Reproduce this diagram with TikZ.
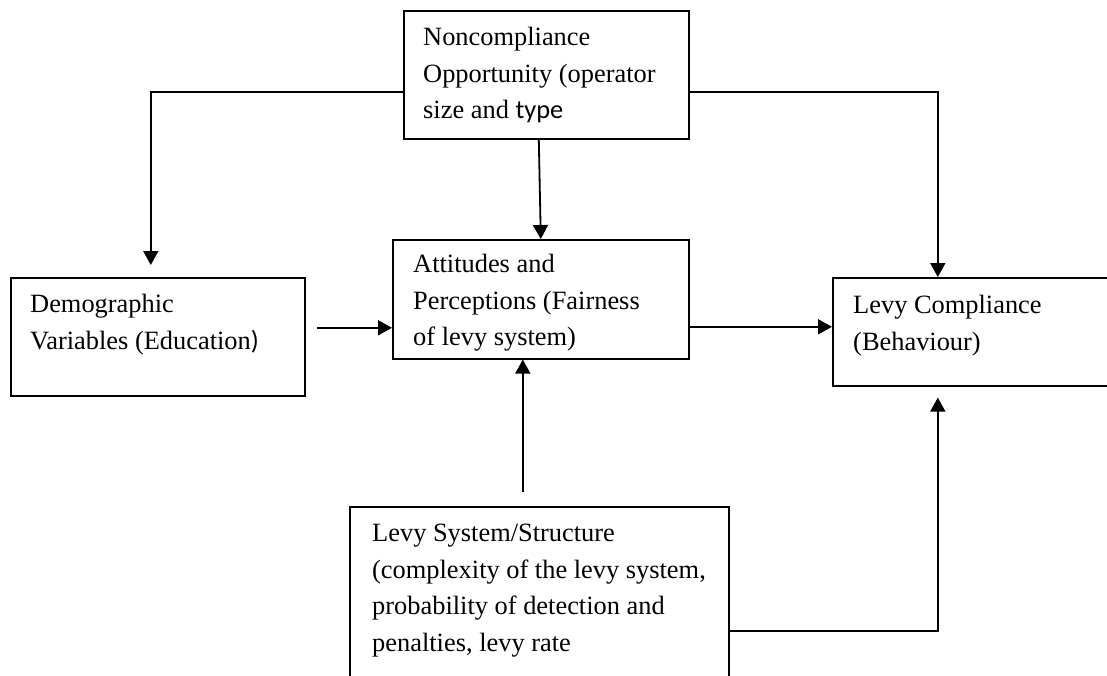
\documentclass[tikz,border=0pt]{standalone}
\usepackage{fontspec}
\setmainfont{Liberation Serif}
\newfontfamily\calib{Carlito}
\usetikzlibrary{arrows.meta,calc}
\tikzset{
  box/.style={draw=black, line width=1.6pt, inner sep=0pt, anchor=north west},
  txt/.style={inner sep=0pt, anchor=north west, align=left, font=\fontsize{26.4}{36.5}\selectfont},
  conn/.style={draw=black, line width=1.8pt},
  arr/.style={conn, -{Triangle[width=15pt,length=14pt]}}
}
\begin{document}
\begin{tikzpicture}[x=1pt,y=-1pt]
\useasboundingbox (0,0) rectangle (1107,675);
\clip (0,0) rectangle (1107,675);
\fill[white] (0,0) rectangle (1107,675);
% boxes
\node[box, minimum width=285pt, minimum height=128pt] (top) at (403,10) {};
\node[box, minimum width=294pt, minimum height=118pt] (demo) at (10,277) {};
\node[box, minimum width=296pt, minimum height=119pt] (att) at (392,239) {};
\node[box, minimum width=300pt, minimum height=108pt] (levy) at (832,277) {};
\node[box, minimum width=379pt, minimum height=190pt] (sys) at (349,506) {};
% texts
\node[txt] (toptxt) at (423,27) {Noncompliance\\Opportunity (operator\\size and {\calib type}};
\node[txt] (demotxt) at (30,294) {Demographic\\Variables (Education{\calib )}};
\node[txt] (atttxt) at (413,254) {Attitudes and\\Perceptions (Fairness\\of levy system)};
\node[txt] (levytxt) at (853,295) {Levy Compliance\\(Behaviour)};
\node[txt] (systxt) at (372,524) {Levy System/Structure\\(complexity of the levy system,\\probability of detection and\\penalties, levy rate};
% connectors
\draw[arr] ([yshift=-17pt]top.west) -| ([xshift=-7pt,yshift=12pt]demo.north);
\draw[arr] ([yshift=-17pt]top.east) -| ([xshift=-45pt]levy.north);
\draw[arr] ([xshift=-7.5pt]top.south) -- (att.north);
\draw[arr] ([xshift=11pt,yshift=9pt]demo.east) -- ([yshift=9pt]demo.east -| att.west);
\draw[arr] ([yshift=-27.5pt]att.east) -- ([yshift=-27.5pt]att.east -| levy.west);
\draw[arr] ([xshift=-16.5pt,yshift=14pt]sys.north) -- ([xshift=-16.5pt]sys.north |- att.south);
\draw[arr] ([yshift=-29pt]sys.east) -| ([xshift=-45pt,yshift=-11pt]levy.south);
\end{tikzpicture}
\end{document}
